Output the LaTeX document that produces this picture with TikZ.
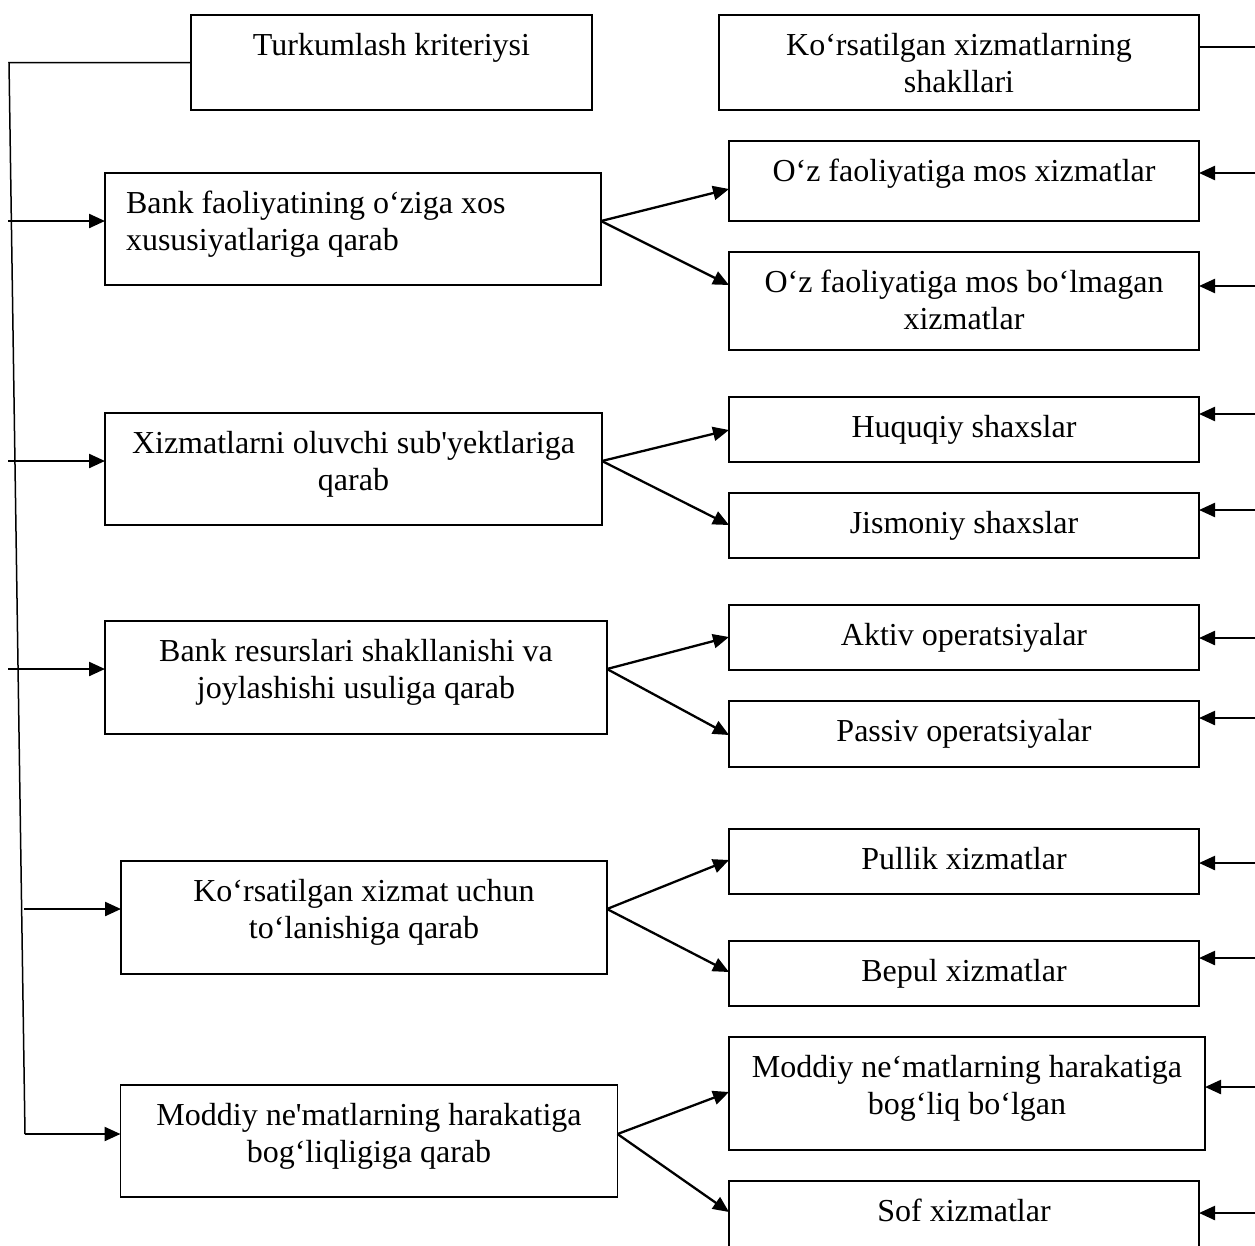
\documentclass[tikz,border=0pt]{standalone}
\usepackage{fontspec}
\setmainfont{Liberation Serif}
\usetikzlibrary{arrows.meta,calc}
\begin{document}
\begin{tikzpicture}[x=1pt,y=-1pt,
  box/.style={draw,line width=1.6pt,inner sep=0pt,outer sep=0pt,rectangle},
  txt/.style={inner sep=0pt,outer sep=0pt,font=\fontsize{32}{37}\selectfont,align=center,anchor=north},
  arr/.style={line width=2.3pt,-{Triangle[length=16pt,width=14pt]}},
  thinline/.style={line width=1.5pt}]
\useasboundingbox (0,0) rectangle (1255,1245);
\clip (0,0) rectangle (1255,1245);

% header boxes
\node[box,minimum width=401pt,minimum height=95pt] (T1) at (391.5,62.5) {};
\node[txt] (T1t) at (391.5,29.1) {\strut Turkumlash kriteriysi};
\node[box,minimum width=480pt,minimum height=95pt] (T2) at (959,62.5) {};
\node[txt] (T2t) at (959,29.1) {\strut Ko‘rsatilgan xizmatlarning\\\strut shakllari};

% left boxes
\node[box,minimum width=496pt,minimum height=112pt] (L1) at (353,229) {};
\node[txt,align=left,anchor=north west] (L1t) at (126,187.1) {\strut Bank faoliyatining o‘ziga xos\\\strut xususiyatlariga qarab};
\node[box,minimum width=497pt,minimum height=112pt] (L2) at (353.5,469) {};
\node[txt] (L2t) at (353.5,427.1) {\strut Xizmatlarni oluvchi sub\textquotesingle yektlariga\\\strut qarab};
\node[box,minimum width=502pt,minimum height=113pt] (L3) at (356,677.5) {};
\node[txt] (L3t) at (356,635.1) {\strut Bank resurslari shakllanishi va\\\strut joylashishi usuliga qarab};
\node[box,minimum width=486pt,minimum height=113pt] (L4) at (364,917.5) {};
\node[txt] (L4t) at (364,875.1) {\strut Ko‘rsatilgan xizmat uchun\\\strut to‘lanishiga qarab};
\node[box,minimum width=497pt,minimum height=112pt] (L5) at (369,1141) {};
\node[txt] (L5t) at (369,1099.1) {\strut Moddiy ne\textquotesingle matlarning harakatiga\\\strut bog‘liqligiga qarab};

% right boxes
\node[box,minimum width=470pt,minimum height=80pt] (R1) at (964,181) {};
\node[txt] (R1t) at (964,155.1) {\strut O‘z faoliyatiga mos xizmatlar};
\node[box,minimum width=470pt,minimum height=98pt] (R2) at (964,301) {};
\node[txt] (R2t) at (964,266.1) {\strut O‘z faoliyatiga mos bo‘lmagan\\\strut xizmatlar};
\node[box,minimum width=470pt,minimum height=65pt] (R3) at (964,429.5) {};
\node[txt] (R3t) at (964,411.1) {\strut Huquqiy shaxslar};
\node[box,minimum width=470pt,minimum height=65pt] (R4) at (964,525.5) {};
\node[txt] (R4t) at (964,507.1) {\strut Jismoniy shaxslar};
\node[box,minimum width=470pt,minimum height=65pt] (R5) at (964,637.5) {};
\node[txt] (R5t) at (964,619.1) {\strut Aktiv operatsiyalar};
\node[box,minimum width=470pt,minimum height=66pt] (R6) at (964,734) {};
\node[txt] (R6t) at (964,715.1) {\strut Passiv operatsiyalar};
\node[box,minimum width=470pt,minimum height=65pt] (R7) at (964,861.5) {};
\node[txt] (R7t) at (964,843.1) {\strut Pullik xizmatlar};
\node[box,minimum width=470pt,minimum height=65pt] (R8) at (964,973.5) {};
\node[txt] (R8t) at (964,955.1) {\strut Bepul xizmatlar};
\node[box,minimum width=476pt,minimum height=113pt] (R9) at (967,1093.5) {};
\node[txt] (R9t) at (967,1051.1) {\strut Moddiy ne‘matlarning harakatiga\\\strut bog‘liq bo‘lgan};
\node[box,minimum width=470pt,minimum height=84pt] (R10) at (964,1223) {};
\node[txt] (R10t) at (964,1195.1) {\strut Sof xizmatlar};

% left spine
\coordinate (c1) at (9,62.5);
\coordinate (c2) at (25,1134);
\coordinate (a1) at (8,221);
\coordinate (a2) at (8,461);
\coordinate (a3) at (8,669);
\coordinate (a4) at (24,909);
\draw[thinline] (T1.west) -- (c1) -- (c2);
\draw[arr] (a1) -- (L1.west |- a1);
\draw[arr] (a2) -- (L2.west |- a2);
\draw[arr] (a3) -- (L3.west |- a3);
\draw[arr] (a4) -- (L4.west |- a4);
\draw[arr] (c2) -- (L5.west |- c2);

% right side
\coordinate (t2) at (1255,47);
\draw[thinline] (T2.east |- t2) -- (t2);
\coordinate (r1) at (1255,173);
\coordinate (r2) at (1255,286);
\coordinate (r3) at (1255,414);
\coordinate (r4) at (1255,510);
\coordinate (r5) at (1255,638);
\coordinate (r6) at (1255,718);
\coordinate (r7) at (1255,863);
\coordinate (r8) at (1255,958);
\coordinate (r9) at (1255,1087);
\coordinate (r10) at (1255,1213);
\draw[arr] (r1) -- (R1.east |- r1);
\draw[arr] (r2) -- (R2.east |- r2);
\draw[arr] (r3) -- (R3.east |- r3);
\draw[arr] (r4) -- (R4.east |- r4);
\draw[arr] (r5) -- (R5.east |- r5);
\draw[arr] (r6) -- (R6.east |- r6);
\draw[arr] (r7) -- (R7.east |- r7);
\draw[arr] (r8) -- (R8.east |- r8);
\draw[arr] (r9) -- (R9.east |- r9);
\draw[arr] (r10) -- (R10.east |- r10);

% forks
\draw[arr] (L1.east |- a1) -- (R1.west |- 0,189);
\draw[arr] (L1.east |- a1) -- (R2.west |- 0,285);
\draw[arr] (L2.east |- a2) -- (R3.west |- 0,430);
\draw[arr] (L2.east |- a2) -- (R4.west |- 0,525);
\draw[arr] (L3.east |- a3) -- (R5.west |- 0,637);
\draw[arr] (L3.east |- a3) -- (R6.west |- 0,735);
\draw[arr] (L4.east |- a4) -- (R7.west |- 0,860);
\draw[arr] (L4.east |- a4) -- (R8.west |- 0,972);
\draw[arr] (L5.east |- c2) -- (R9.west |- 0,1092);
\draw[arr] (L5.east |- c2) -- (R10.west |- 0,1212);
\end{tikzpicture}
\end{document}
